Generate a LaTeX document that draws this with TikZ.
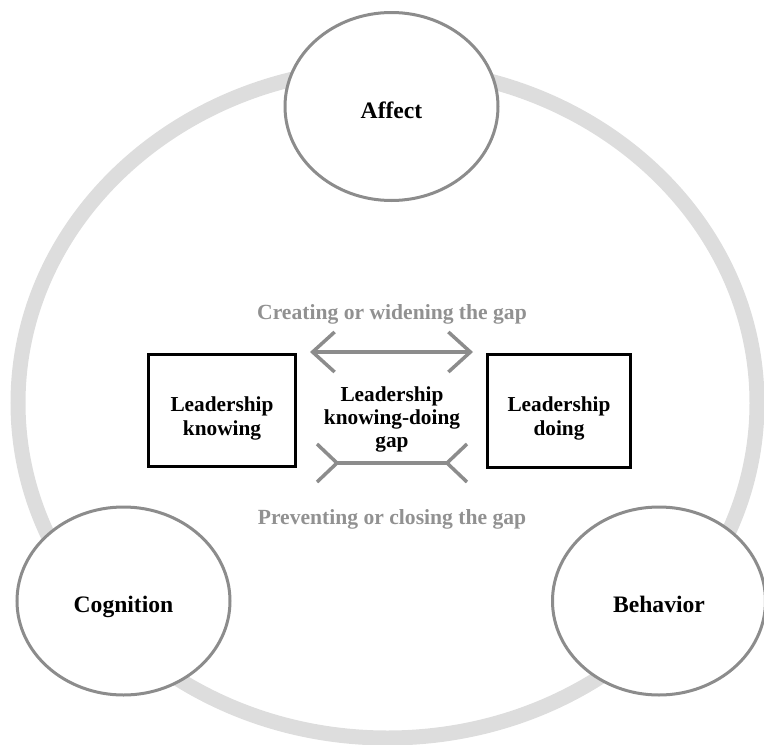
\documentclass[tikz,border=0pt]{standalone}
\usepackage{fontspec}
\setmainfont{Liberation Serif}
\usetikzlibrary{arrows.meta,shapes.geometric}
\definecolor{ringgray}{HTML}{DDDDDD}
\definecolor{edgegray}{HTML}{8C8C8C}
\definecolor{labelgray}{HTML}{919191}
\begin{document}
\begin{tikzpicture}[x=1pt,y=-1pt,
  ring/.style={draw=ringgray,line width=15pt},
  domaincircle/.style={ellipse,draw=edgegray,line width=3pt,fill=white,
    minimum width=213pt,minimum height=188pt,inner sep=0pt,
    text height=23pt,text depth=0pt,
    font=\bfseries\fontsize{23.6}{27}\selectfont},
  stagebox/.style={rectangle,draw=black,line width=3pt,fill=white},
  stagetext/.style={align=center,font=\bfseries\fontsize{21.3}{24}\selectfont},
  gaptext/.style={align=center,font=\bfseries\fontsize{21.3}{23}\selectfont},
  flowtext/.style={text=labelgray,anchor=base,font=\bfseries\fontsize{21.6}{24}\selectfont},
  gapline/.style={draw=edgegray,line width=3.5pt},
  barb/.tip={Straight Barb[length=22pt,width=40pt,line width=3.5pt]}]
  \useasboundingbox (0,0) rectangle (764,745);

  % outer cycle
  \draw[ring] (387.5,403) ellipse [x radius=369.5, y radius=335];

  % the three domains
  \node[domaincircle] (aff) at (391.5,106.5) {Affect};
  \node[domaincircle] (cog) at (123.5,601) {Cognition};
  \node[domaincircle] (beh) at (659,601) {Behavior};

  % knowing and doing
  \node[stagebox,minimum width=147pt,minimum height=112pt] (know) at (222,410.5) {};
  \node[stagetext] (knowtext) at (222,418.5) {Leadership\\knowing};
  \node[stagebox,minimum width=143pt,minimum height=113pt] (do) at (559,411) {};
  \node[stagetext] (dotext) at (559,418.5) {Leadership\\doing};
  \node[gaptext] (gap) at (392,419) {Leadership\\knowing-doing\\gap};

  % widening: double-headed arrow
  \coordinate (wl) at (310,352);
  \coordinate (wr) at (473,352);
  \draw[gapline,barb-barb] (wl) -- (wr);
  \node[flowtext] (wtext) at (392,319) {Creating or widening the gap};

  % closing: bar with outward forks
  \coordinate (cl) at (337,463);
  \coordinate (cr) at (447,463);
  \draw[gapline] (cl) -- (cr);
  \draw[gapline] (cl) ++(-20,-19) -- (cl) -- ++(-20,19);
  \draw[gapline] (cr) ++(20,-19) -- (cr) -- ++(20,19);
  \node[flowtext] (ctext) at (392,524) {Preventing or closing the gap};
\end{tikzpicture}
\end{document}
